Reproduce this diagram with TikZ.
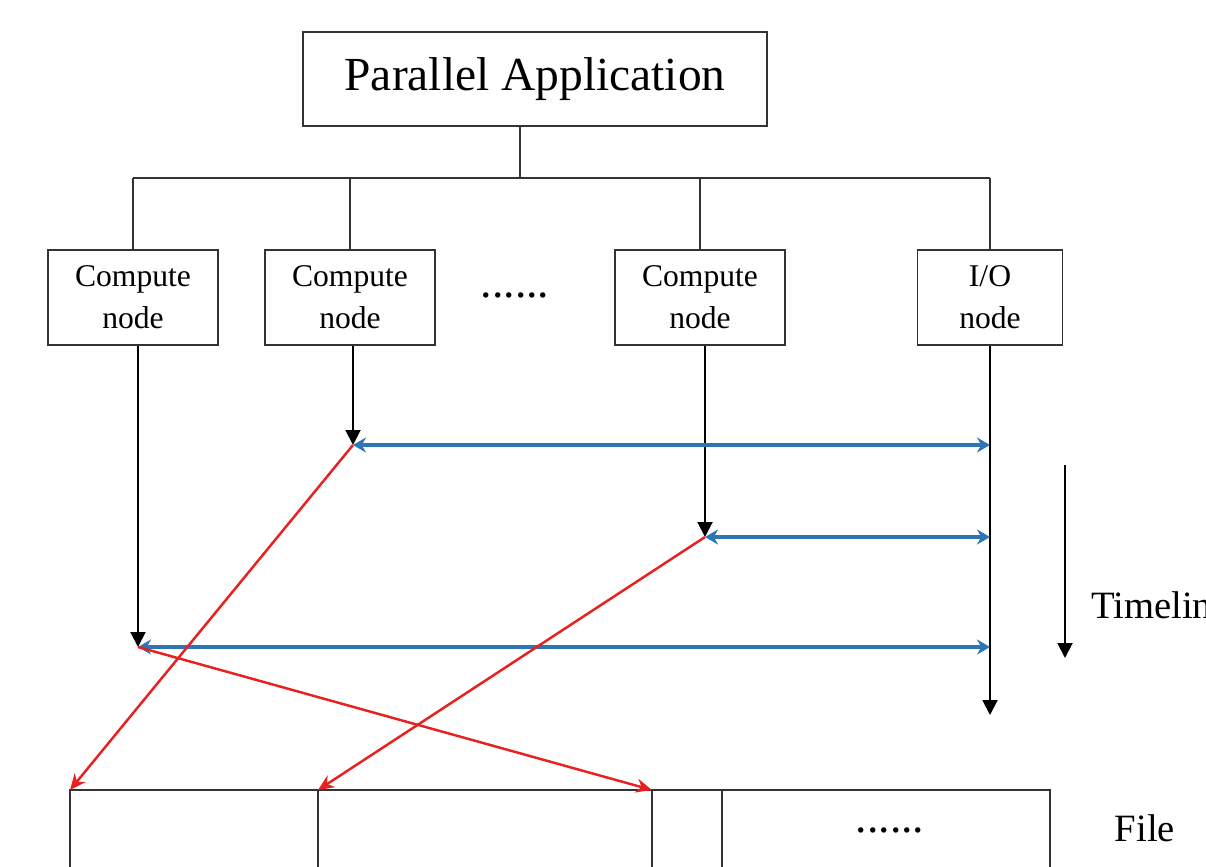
\documentclass[tikz,border=0pt]{standalone}
\usepackage{fontspec}
\setmainfont{Liberation Serif}
\usetikzlibrary{arrows.meta,positioning}
\definecolor{linkblue}{RGB}{46,117,182}
\definecolor{writered}{RGB}{232,32,32}
\tikzset{
  appbox/.style={rectangle, draw=black!80, line width=1.1pt, minimum width=9.28cm, minimum height=1.88cm, font=\fontsize{27}{30}\selectfont},
  procbox/.style={rectangle, draw=black!80, line width=1.1pt, minimum width=3.4cm, minimum height=1.9cm, align=center, font=\fontsize{18}{24}\selectfont},
  segbox/.style={rectangle, draw=black!80, line width=1.1pt, minimum height=2.4cm, inner sep=0pt, outer sep=0pt, anchor=north west},
  treeedge/.style={draw=black!80, line width=1.1pt},
  timearrow/.style={line width=1.1pt, -{Triangle[length=3mm,width=3mm]}},
  msgarrow/.style={linkblue, line width=2pt, {Stealth[length=2.6mm,width=3mm]}-{Stealth[length=2.6mm,width=3mm]}},
  writearrow/.style={writered, line width=1.4pt, -{Stealth[length=3.2mm,width=2.8mm]}},
  dots/.style={font=\fontsize{26}{28}\selectfont, inner sep=0pt},
  bigtext/.style={font=\fontsize{22}{26}\selectfont}
}

\begin{document}
\begin{tikzpicture}
  \useasboundingbox (0,0) rectangle (24.12,-17.34);

  % Application and its nodes
  \node[appbox] (app) at (10.7,-1.58) {Parallel Application};
  \node[procbox] (cn1) at (2.66,-5.95) {Compute\\node};
  \node[procbox] (cn2) at (7.0,-5.95) {Compute\\node};
  \node[procbox] (cn3) at (14.0,-5.95) {Compute\\node};
  \node[procbox, minimum width=2.9cm] (io) at (19.8,-5.95) {I/O\\node};
  \node[dots] (gap) at (10.3,-5.9) {......};

  % Tree
  \coordinate (bus) at (0,-3.56);
  \coordinate (stem) at ([xshift=-0.3cm]app.south);
  \draw[treeedge] (stem) -- (stem |- bus);
  \draw[treeedge] (cn1.north |- bus) -- (io.north |- bus);
  \foreach \n in {cn1,cn2,cn3,io}
    \draw[treeedge] (\n.north |- bus) -- (\n.north);

  % Time lines
  \coordinate (e2) at (7.06,-8.9);
  \coordinate (e3) at (14.1,-10.74);
  \coordinate (e1) at (2.76,-12.94);
  \coordinate (ioend) at (19.8,-14.3);
  \draw[timearrow] (cn2.south -| e2) -- (e2);
  \draw[timearrow] (cn3.south -| e3) -- (e3);
  \draw[timearrow] (cn1.south -| e1) -- (e1);
  \draw[timearrow] (io.south) -- (ioend);

  % Requests to the I/O node
  \draw[msgarrow] (e2) -- (e2 -| io);
  \draw[msgarrow] (e3) -- (e3 -| io);
  \draw[msgarrow] (e1) -- (e1 -| io);

  % Timeline
  \coordinate (tl0) at (21.3,-9.3);
  \coordinate (tl1) at (21.3,-13.16);
  \draw[timearrow] (tl0) -- (tl1);
  \node[bigtext, anchor=west] (tlabel) at (21.7,-12.1) {Timeline};

  % File
  \node[segbox, minimum width=4.96cm] (seg1) at (1.4,-15.8) {};
  \node[segbox, minimum width=6.68cm, right=0pt of seg1] (seg2) {};
  \node[segbox, minimum width=1.4cm, right=0pt of seg2] (seg3) {};
  \node[segbox, minimum width=6.56cm, right=0pt of seg3] (seg4) {};
  \node[dots] (fdots) at (17.8,-16.6) {......};
  \node[bigtext] (flabel) at (22.9,-16.56) {File};

  % Writes
  \draw[writearrow] (e2) -- (seg1.north west);
  \draw[writearrow] (e3) -- (seg2.north west);
  \draw[writearrow] (e1) -- (seg3.north west);
\end{tikzpicture}
\end{document}
